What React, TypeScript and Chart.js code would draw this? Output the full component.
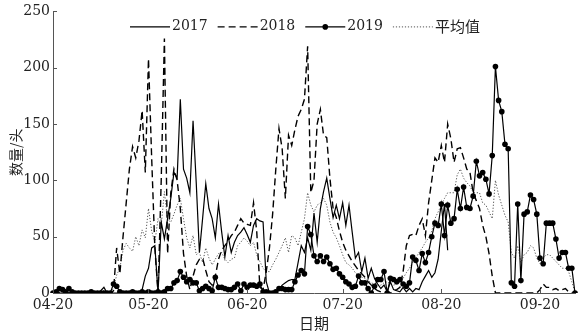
import React, { useEffect, useRef } from "react";
import { Chart, registerables } from "chart.js";

Chart.register(...registerables);

// ---- Data -------------------------------------------------------------
const START_MONTH = 3; // April (0-based)
const START_DAY = 20;
const DAY_COUNT = 165; // 04-20 .. 10-01
const DATES: string[] = Array.from({ length: DAY_COUNT }, (_, i) => {
  const d = new Date(2019, START_MONTH, START_DAY + i);
  return `${String(d.getMonth() + 1).padStart(2, "0")}-${String(d.getDate()).padStart(2, "0")}`;
});
const TICK_LABELS = ["04-20", "05-20", "06-20", "07-20", "08-20", "09-20"];
const Y_TICKS = [0, 50, 100, 150, 200, 250];

const S2017 = [
  0, 0, 0, 0, 0, 0, 0, 0, 0, 0,
  0, 0, 0, 0, 0, 2, 5, 0, 0, 0,
  0, 0, 0, 0, 0, 0, 0, 0, 3, 15,
  22, 40, 42, 0, 63, 48, 66, 84, 107, 102,
  172, 110, 102, 89, 153, 98, 36, 66, 97, 75,
  66, 49, 79, 54, 32, 51, 36, 45, 51, 54,
  58, 52, 45, 60, 66, 64, 63, 10, 0, 0, 0,
  3, 7, 9, 11, 12, 12, 27, 42, 36, 49,
  38, 71, 45, 75, 90, 102, 84, 67, 78, 66,
  80, 60, 78, 54, 31, 36, 19, 31, 13, 22,
  13, 8, 4, 7, 1, 10, 3, 2, 1, 5, 1,
  4, 1, 4, 3, 10, 15, 20, 14, 18, 30,
  55, 79, 38,
];

const S2018 = [
  0, 0, 0, 0, 0, 0, 0, 0, 0, 0,
  0, 0, 0, 0, 0, 0, 0, 0, 0, 2,
  40, 17, 50, 80, 110, 130, 120, 135, 162, 107,
  208, 120, 40, 0, 100, 226, 35, 89, 110, 100,
  75, 35, 15, 3, 15, 25, 30, 31, 20, 10,
  7, 15, 30, 38, 42, 46, 51, 54, 60, 66,
  62, 61, 60, 80, 55, 5, 3, 19, 40, 70, 110,
  146, 128, 84, 140, 131, 145, 157, 163, 172, 219,
  89, 100, 150, 163, 140, 138, 102, 75, 67, 55,
  45, 38, 33, 28, 24, 20, 17, 14, 10, 7,
  4, 2, 1, 0, 0, 0, 2, 3, 5, 19, 42,
  51, 52, 51, 60, 66, 51, 80, 100, 120, 116,
  131, 116, 150, 137, 116, 128, 129, 120, 110, 107,
  89, 82, 75, 60, 50, 35, 15, 0, 0, 0,
  0, 0, 0, 0, 0, 0, 0, 0, 0, 0,
  0, 3, 8, 5, 5, 3, 4, 2, 3, 4,
  1, 0, 0,
];

const S2019 = [
  0, 1, 4, 3, 1, 4, 1, 0, 0, 0,
  0, 0, 1, 0, 0, 0, 0, 0, 0, 8,
  6, 1, 0, 0, 0, 1, 0, 0, 1, 0,
  1, 0, 0, 1, 0, 1, 4, 4, 9, 11,
  19, 14, 10, 12, 9, 9, 2, 4, 6, 4,
  2, 14, 5, 5, 4, 3, 3, 5, 8, 2,
  8, 5, 7, 7, 6, 8, 1, 1, 0, 0, 1,
  4, 4, 3, 3, 3, 10, 16, 20, 17, 59,
  52, 33, 28, 33, 28, 32, 26, 21, 22, 17,
  14, 10, 8, 5, 6, 15, 9, 9, 4, 0,
  6, 12, 12, 19, 0, 13, 12, 10, 12, 8, 6,
  9, 32, 29, 20, 35, 27, 36, 50, 62, 60,
  79, 51, 78, 62, 66, 92, 75, 94, 76, 75,
  86, 117, 104, 107, 101, 88, 122, 201, 171, 161,
  132, 128, 9, 6, 79, 11, 70, 72, 87, 83,
  70, 31, 26, 62, 62, 62, 48, 31, 36, 36,
  22, 22, 0,
];

const SAVG = [
  0, 0, 1, 1, 0, 1, 0, 0, 0, 0,
  0, 0, 0, 0, 0, 1, 2, 0, 0, 4,
  16, 22, 38, 44, 40, 37, 50, 42, 56, 49,
  75, 55, 45, 66, 60, 90, 65, 63, 70, 78,
  84, 66, 49, 40, 51, 34, 36, 27, 40, 31,
  25, 30, 35, 36, 30, 27, 30, 31, 42, 45,
  49, 46, 42, 45, 34, 28, 22, 19, 19, 25, 30,
  36, 42, 49, 36, 51, 49, 42, 54, 66, 89,
  78, 72, 78, 80, 84, 78, 63, 54, 49, 42,
  34, 27, 25, 22, 18, 16, 14, 13, 11, 9,
  8, 7, 7, 9, 10, 8, 7, 8, 10, 13, 18,
  22, 27, 31, 36, 40, 45, 49, 55, 66, 72,
  78, 84, 89, 89, 89, 105, 110, 102, 98, 95,
  89, 89, 89, 80, 78, 72, 66, 100, 87, 78,
  69, 63, 36, 31, 42, 27, 34, 36, 42, 40,
  31, 26, 31, 34, 34, 31, 28, 25, 22, 22,
  19, 10, 1,
];

// ---- Styles -----------------------------------------------------------
const FONT_FAMILY = '"DejaVu Serif", "Noto Sans CJK SC", serif';
const CJK_FAMILY = '"Noto Sans CJK SC", "DejaVu Serif", serif';
const TEXT_COLOR = "#222";
const AXIS_COLOR = "#555";

const overlayPlugin = {
  id: "overlay",
  afterDraw(chart: any) {
    const { ctx, chartArea, scales } = chart;
    ctx.save();
    ctx.strokeStyle = AXIS_COLOR;
    ctx.lineWidth = 1;
    ctx.setLineDash([]);
    for (const v of Y_TICKS) {
      const y = Math.round(scales.y.getPixelForValue(v)) + 0.5;
      ctx.beginPath();
      ctx.moveTo(chartArea.left, y);
      ctx.lineTo(chartArea.left + 4, y);
      ctx.stroke();
    }
    for (const l of TICK_LABELS) {
      const i = DATES.indexOf(l);
      if (i < 0) continue;
      const x = Math.round(scales.x.getPixelForValue(i)) + 0.5;
      ctx.beginPath();
      ctx.moveTo(x, chartArea.bottom);
      ctx.lineTo(x, chartArea.bottom - 4);
      ctx.stroke();
    }
    // legend inside the plot
    let x = chartArea.left + 77;
    const y = chartArea.top + 15;
    ctx.font = `14px ${FONT_FAMILY}`;
    ctx.textBaseline = "middle";
    ctx.textAlign = "left";
    for (const ds of chart.data.datasets) {
      ctx.save();
      ctx.strokeStyle = ds.borderColor;
      ctx.lineWidth = ds.borderWidth;
      ctx.setLineDash(ds.borderDash || []);
      ctx.beginPath();
      ctx.moveTo(x, y + 0.5);
      ctx.lineTo(x + 40, y + 0.5);
      ctx.stroke();
      if (ds.pointRadius > 0) {
        ctx.setLineDash([]);
        ctx.fillStyle = ds.pointBackgroundColor;
        ctx.beginPath();
        ctx.arc(x + 20, y + 0.5, ds.pointRadius, 0, Math.PI * 2);
        ctx.fill();
      }
      ctx.restore();
      ctx.fillStyle = TEXT_COLOR;
      const isCjk = /[\u4e00-\u9fff]/.test(ds.label);
      ctx.font = isCjk ? `15px ${CJK_FAMILY}` : `14px ${FONT_FAMILY}`;
      ctx.fillText(ds.label, x + 42, y);
      x += 42 + ctx.measureText(ds.label).width + 10;
    }
    ctx.restore();
  },
};

export default function App() {
  const ref = useRef<HTMLCanvasElement | null>(null);

  useEffect(() => {
    if (!ref.current) return;
    const chart = new Chart(ref.current, {
      type: "line",
      data: {
        labels: DATES,
        datasets: [
          {
            label: "2017",
            data: S2017,
            borderColor: "#000",
            borderWidth: 1.2,
            pointRadius: 0,
            fill: false,
          },
          {
            label: "2018",
            data: S2018,
            borderColor: "#000",
            borderWidth: 1.4,
            borderDash: [7, 4],
            pointRadius: 0,
            fill: false,
          },
          {
            label: "2019",
            data: S2019,
            borderColor: "#000",
            borderWidth: 1.2,
            pointRadius: 2.8,
            pointBackgroundColor: "#000",
            pointBorderWidth: 0,
            fill: false,
          },
          {
            label: "平均值",
            data: SAVG,
            borderColor: "#555",
            borderWidth: 1,
            borderDash: [1.2, 1.8],
            pointRadius: 0,
            fill: false,
          },
        ],
      },
      options: {
        animation: false,
        responsive: true,
        maintainAspectRatio: false,
        layout: { padding: { top: 10, right: 1, left: 0, bottom: 0 } },
        elements: { line: { tension: 0 } },
        plugins: { legend: { display: false }, tooltip: { enabled: false } },
        scales: {
          x: {
            type: "category",
            offset: false,
            grid: { display: false, drawTicks: false },
            border: { display: true, color: AXIS_COLOR, width: 1 },
            ticks: {
              autoSkip: false,
              maxRotation: 0,
              minRotation: 0,
              padding: 4,
              color: TEXT_COLOR,
              font: { family: FONT_FAMILY, size: 14 },
              callback: (_v: any, i: number) => (TICK_LABELS.includes(DATES[i]) ? DATES[i] : ""),
            },
            title: {
              display: true,
              text: "日期",
              color: TEXT_COLOR,
              font: { family: CJK_FAMILY, size: 15 },
              padding: { top: 0, bottom: 1 },
            },
            afterFit: (s: any) => {
              s.height = 40;
            },
          },
          y: {
            min: 0,
            max: 250,
            grid: { display: false, drawTicks: false },
            border: { display: true, color: AXIS_COLOR, width: 1 },
            ticks: {
              stepSize: 50,
              padding: 3,
              color: TEXT_COLOR,
              font: { family: FONT_FAMILY, size: 14 },
            },
            title: {
              display: true,
              text: "数量/头",
              color: TEXT_COLOR,
              font: { family: CJK_FAMILY, size: 14 },
              padding: { top: 7, bottom: 0 },
            },
            afterFit: (s: any) => {
              s.width = 53;
            },
          },
        },
      },
      plugins: [overlayPlugin],
    });
    return () => chart.destroy();
  }, []);

  return (
    <div style={{ position: "fixed", left: 0, top: 0, width: 579, height: 333, background: "#fff" }}>
      <canvas ref={ref} />
    </div>
  );
}
